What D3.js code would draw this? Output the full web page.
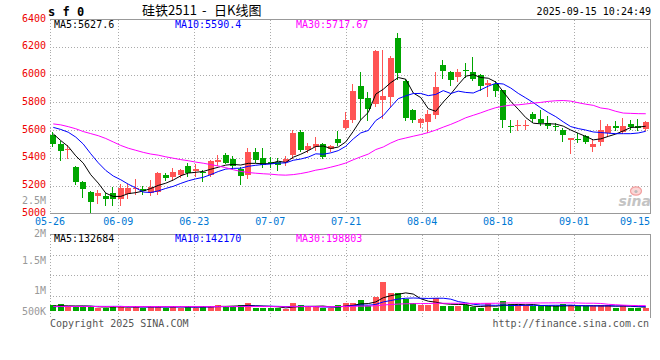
<!DOCTYPE html>
<html><head><meta charset="utf-8">
<script src="https://cdn.jsdelivr.net/npm/d3@7"></script>
<style>html,body{margin:0;padding:0;background:#fff}svg{display:block}</style>
</head><body>
<svg id="chart" width="660" height="360"></svg>
<script>
const dates = ["05-26","05-27","05-28","05-29","05-30","06-03","06-04","06-05","06-06","06-09","06-10","06-11","06-12","06-13","06-16","06-17","06-18","06-19","06-20","06-23","06-24","06-25","06-26","06-27","06-30","07-01","07-02","07-03","07-04","07-07","07-08","07-09","07-10","07-11","07-14","07-15","07-16","07-17","07-18","07-21","07-22","07-23","07-24","07-25","07-28","07-29","07-30","07-31","08-01","08-04","08-05","08-06","08-07","08-08","08-11","08-12","08-13","08-14","08-15","08-18","08-19","08-20","08-21","08-22","08-25","08-26","08-27","08-28","08-29","09-01","09-02","09-03","09-04","09-05","09-08","09-09","09-10","09-11","09-12","09-15"];
const open = [5565,5500,5458,5338,5224,5152,5127,5128,5150,5103,5143,5180,5176,5148,5152,5278,5260,5276,5343,5307,5298,5276,5369,5421,5393,5321,5279,5445,5402,5374,5369,5374,5421,5588,5457,5476,5500,5462,5536,5612,5671,5921,5833,5786,5814,5838,6260,5952,5743,5648,5660,5707,6069,6021,5981,6036,6019,6000,5926,5933,5886,5629,5631,5633,5714,5683,5655,5629,5600,5529,5536,5557,5481,5512,5576,5629,5588,5643,5629,5605];
const high = [5585,5524,5495,5345,5231,5160,5171,5145,5193,5215,5210,5250,5200,5240,5300,5295,5325,5320,5365,5355,5314,5386,5421,5433,5414,5338,5469,5469,5469,5410,5402,5414,5600,5600,5510,5552,5505,5495,5595,5731,5933,6021,5874,6176,6179,6136,6302,5969,5750,5690,5743,6017,6105,6029,6040,6081,6129,6005,5962,5957,5890,5671,5671,5676,5731,5743,5700,5648,5617,5545,5576,5564,5533,5676,5643,5667,5690,5676,5683,5667];
const low = [5485,5386,5400,5210,5117,5010,5075,5064,5060,5062,5110,5140,5143,5130,5140,5243,5243,5265,5272,5267,5231,5267,5352,5362,5326,5214,5255,5374,5338,5338,5310,5350,5398,5450,5445,5457,5398,5452,5493,5605,5660,5683,5676,5771,5690,5771,5969,5676,5660,5624,5588,5690,5974,5926,5957,5981,5962,5886,5845,5845,5624,5588,5600,5605,5660,5636,5612,5600,5521,5438,5517,5510,5452,5493,5557,5600,5576,5607,5600,5600];
const close = [5500,5452,5462,5224,5176,5081,5150,5103,5102,5180,5180,5185,5162,5192,5292,5259,5300,5314,5290,5319,5291,5379,5386,5367,5345,5267,5440,5386,5350,5357,5350,5393,5576,5457,5486,5500,5410,5486,5510,5671,5879,5826,5750,6171,5845,6117,6010,5690,5676,5679,5719,5914,6024,5962,6017,6024,5969,5921,5938,5881,5671,5624,5638,5638,5679,5648,5629,5624,5564,5540,5529,5517,5500,5600,5629,5614,5629,5624,5614,5660];
const ma5 = [5573,5525,5482,5415,5362.8,5279,5218.6,5146.8,5122.4,5123.2,5143,5150,5161.8,5179.8,5202.2,5218,5241,5271.4,5291,5296.4,5302.8,5318.6,5333,5348.4,5353.6,5348.8,5361,5361,5357.6,5360,5376.6,5367.2,5405.2,5426.6,5452.4,5482.4,5485.8,5467.8,5478.4,5515.4,5591.2,5674.4,5727.2,5859.4,5894.2,5941.8,5978.6,5966.6,5867.6,5834.4,5754.8,5735.6,5802.4,5859.6,5927.2,5988.2,5999.2,5978.6,5973.8,5946.6,5876,5807,5750.4,5690.4,5650,5645.4,5646.4,5643.6,5628.8,5601,5577.2,5554.8,5530,5537.2,5555,5572,5594.4,5619.2,5622,5628.2];
const ma10 = [5620,5605,5585,5550,5500,5430,5365,5310,5270,5243,5211,5184.3,5154.3,5151.1,5162.7,5180.5,5195.5,5216.6,5235.4,5249.3,5260.4,5279.8,5302.2,5319.7,5325,5325.8,5339.8,5347,5353,5356.8,5362.7,5364.1,5383.1,5392.1,5406.2,5429.5,5426.5,5436.5,5452.5,5483.9,5536.8,5580.1,5597.5,5668.9,5704.8,5766.5,5826.5,5846.9,5863.5,5864.3,5848.3,5857.1,5884.5,5863.6,5880.8,5871.5,5867.4,5890.5,5916.7,5936.9,5932.1,5903.1,5864.5,5832.1,5798.3,5760.7,5726.7,5697,5659.6,5625.5,5611.3,5600.6,5586.8,5583,5578,5574.6,5574.6,5574.6,5579.6,5591.6];
const ma30 = [5645,5638,5625,5610,5590,5575,5560,5540,5515,5490,5470,5455,5440,5428,5420,5408,5398,5388,5380,5370,5362,5352,5342,5330,5315,5303,5295,5290,5286,5283,5278,5276.1,5279.9,5287.6,5298,5311.9,5320.6,5333.4,5347,5363.3,5386.6,5408,5427.6,5460.2,5478.7,5507.3,5530.9,5543.5,5556.3,5568.3,5582.6,5600.4,5621.7,5641.5,5663.9,5689.2,5706.8,5724.6,5744.2,5761.7,5772.4,5780.1,5782.2,5788.2,5794.6,5799.6,5806.9,5811.5,5813.3,5808.9,5797.2,5786.9,5778.6,5759.6,5752.4,5735.6,5722.9,5720.7,5718.6,5718];
const volume = [222000,261000,168000,156000,183000,183000,129000,129000,183000,183000,129000,183000,129000,183000,183000,129000,183000,129000,183000,129000,183000,183000,222000,183000,183000,222000,300000,129000,129000,129000,129000,90000,300000,222000,156000,156000,129000,129000,222000,312000,312000,417000,183000,546000,1131000,702000,702000,456000,312000,222000,222000,507000,183000,183000,183000,222000,156000,129000,300000,129000,378000,261000,222000,222000,183000,183000,183000,183000,261000,222000,183000,183000,183000,222000,222000,129000,222000,129000,129000,129000];
const vma5 = [190000,205000,200000,195000,198000,190000,164000,156000,161000,161000,151000,161000,161000,161000,161000,161000,161000,161000,161000,151000,161000,161000,180000,180000,191000,199000,222000,203000,193000,182000,163000,121000,155000,174000,179000,185000,193000,158000,158000,190000,221000,278000,289000,354000,518000,596000,653000,707000,661000,479000,383000,344000,289000,263000,256000,256000,185000,175000,198000,187000,218000,239000,258000,242000,253000,214000,199000,191000,199000,206000,206000,206000,206000,199000,199000,188000,196000,185000,166000,148000];
const vma10 = [170000,172000,175000,178000,180000,182000,180000,178000,180000,180000,170000,163000,159000,161000,161000,156000,161000,161000,161000,156000,161000,161000,171000,171000,171000,180000,192000,192000,186000,186000,181000,172000,179000,183000,181000,174000,157000,157000,166000,185000,203000,236000,224000,256000,354000,408000,466000,498000,507000,498000,489000,498000,498000,462000,367000,319000,265000,232000,231000,221000,237000,212000,216000,220000,220000,216000,219000,224000,221000,230000,210000,203000,199000,199000,203000,197000,201000,196000,182000,173000];
const vma30 = [178000,178000,177000,177000,176000,176000,175000,175000,175000,174000,174000,174000,174000,173000,173000,173000,173000,173000,172000,172000,172000,172000,172000,173000,173000,173000,174000,174000,174000,174000,171000,165000,170000,172000,171000,170000,170000,170000,171000,176000,182000,190000,191000,203000,235000,254000,271000,282000,287000,290000,291000,302000,301000,301000,301000,301000,296000,296000,301000,301000,310000,315000,313000,313000,314000,315000,316000,318000,320000,317000,312000,304000,304000,294000,263000,244000,228000,217000,211000,208000];
const priceTicks = [5000,5200,5400,5600,5800,6000,6200,6400];
const dateTicks = ["05-26","06-09","06-23","07-07","07-21","08-04","08-18","09-01","09-15"];
const volTickValues = [500000,1000000,1500000,2000000,2500000];
const volTickLabels = ["500K","1M","1.5M","2M","2.5M"];
const priceMALabels = ["MA5:5627.6","MA10:5590.4","MA30:5717.67"];
const volMALabels = ["MA5:132684","MA10:142170","MA30:198803"];
const titleCode = "s f 0";
const titleParts = ["硅铁2511", "-", "日K线图"];
const stamp = "2025-09-15 10:24:49";

const MONO = "'DejaVu Sans Mono', 'Liberation Mono', monospace";
const UP = "#ff5454", DOWN = "#00a600";
const MA_COLORS = ["#000000", "#0000ff", "#ff00ff"];
const GRID = "#aaaaaa", FRAME = "#999999";

const svg = d3.select("#chart");
const L = 50, R = 650, PT = 19.5, PB = 213.5, VT = 234.5, VB = 316, VBASE = 311;

const x = d3.scaleBand().domain(dates).range([49.5, 649.5]);
const cx = i => x(dates[i]) + x.bandwidth() / 2;
const y = d3.scaleLinear().domain([5000, 6400]).range([213.5, 19]);
const yVol = d3.scaleLinear().domain([0, 3000000]).range([VBASE, 234.1]);
const tickSlot = d3.scaleLinear().domain([1, 8]).range([118.3, 650]);
const volGrid = d3.scaleLinear().domain([0, 4]).range([VB, 234.3]);
const volLabelY = d3.scaleLinear().domain(volTickValues).range([311, 290.5, 260.3, 233.2, 200]);

const px = v => Math.round(v) + 0.5;

// ---------- grids ----------
const grid = svg.append("g").attr("stroke", GRID).attr("stroke-dasharray", "1,2").attr("shape-rendering", "crispEdges");
priceTicks.slice(1, -1).forEach(v => {
  grid.append("line").attr("x1", L).attr("x2", R).attr("y1", px(y(v))).attr("y2", px(y(v)));
});
d3.range(1, 4).forEach(k => {
  grid.append("line").attr("x1", L).attr("x2", R).attr("y1", px(volGrid(k))).attr("y2", px(volGrid(k)));
});
d3.range(1, 8).forEach(k => {
  const gx = px(tickSlot(k));
  grid.append("line").attr("x1", gx).attr("x2", gx).attr("y1", PT).attr("y2", PB);
  grid.append("line").attr("x1", gx).attr("x2", gx).attr("y1", VT).attr("y2", 319);
});
grid.append("line").attr("x1", 50.5).attr("x2", 50.5).attr("y1", PT).attr("y2", PB);
grid.append("line").attr("x1", 50.5).attr("x2", 50.5).attr("y1", VT).attr("y2", 318);

const frame = svg.append("g").attr("stroke", FRAME).attr("fill", "none").attr("shape-rendering", "crispEdges");
frame.append("path").attr("d", `M50,${PT}H650.5V${PB}H50`);
frame.append("path").attr("d", `M50,${VT}H650.5V318`);

// ---------- axes text ----------
const yAxis = d3.axisLeft(y).tickValues(priceTicks).tickSize(0).tickPadding(4).tickFormat(d3.format("d"));
const ya = svg.append("g").attr("transform", "translate(50,0)").call(yAxis);
ya.select(".domain").remove();
ya.selectAll("text").attr("fill", "#ee0000").attr("font-family", MONO).attr("font-size", 10).attr("dy", "0.2em");

const vlab = svg.append("g").attr("font-family", MONO).attr("font-size", 10).attr("fill", "#999").attr("text-anchor", "end");
volTickValues.forEach((v, k) => {
  vlab.append("text").attr("x", 46).attr("y", volLabelY(v) + 3.5).text(volTickLabels[k]);
});

const xlab = svg.append("g").attr("font-family", MONO).attr("font-size", 10).attr("fill", "#0078d4");
dateTicks.forEach((t, k) => {
  const tx = k === 0 ? 50 : (k === dateTicks.length - 1 ? 650 : tickSlot(k));
  xlab.append("text").attr("x", tx).attr("y", 224.8)
    .attr("text-anchor", k === dateTicks.length - 1 ? "end" : "middle").text(t);
});

// ---------- candles & volume bars ----------
const rows = dates.map((d, i) => ({ d, i, o: open[i], h: high[i], l: low[i], c: close[i], v: volume[i] }));
const cg = svg.append("g").attr("shape-rendering", "crispEdges");
rows.forEach(r => {
  const col = r.c >= r.o ? UP : DOWN;
  const bx = Math.round(cx(r.i) - 3);
  const yt = Math.round(y(Math.max(r.o, r.c)));
  const yb = Math.round(y(Math.min(r.o, r.c)));
  cg.append("line").attr("x1", bx + 2.5).attr("x2", bx + 2.5)
    .attr("y1", Math.round(y(r.h))).attr("y2", Math.round(y(r.l)) + 1).attr("stroke", col);
  cg.append("rect").attr("x", bx).attr("y", yt).attr("width", 6).attr("height", Math.max(1, yb - yt)).attr("fill", col);
  const vt = Math.round(yVol(r.v));
  cg.append("rect").attr("x", bx).attr("y", vt).attr("width", 6).attr("height", VBASE - vt).attr("fill", col);
});

// ---------- MA lines ----------
const lineP = d3.line().x((d, i) => cx(i)).y(d => y(d));
const lineV = d3.line().x((d, i) => cx(i)).y(d => yVol(d));
[ma5, ma10, ma30].forEach((s, k) => {
  svg.append("path").attr("d", lineP(s)).attr("fill", "none").attr("stroke", MA_COLORS[k]).attr("stroke-width", 1);
});
[vma5, vma10, vma30].forEach((s, k) => {
  svg.append("path").attr("d", lineV(s)).attr("fill", "none").attr("stroke", MA_COLORS[k]).attr("stroke-width", 1);
});

// ---------- labels ----------
const maX = [54, 175, 296];
const ml = svg.append("g").attr("font-family", MONO).attr("font-size", 10);
priceMALabels.forEach((t, k) => ml.append("text").attr("x", maX[k]).attr("y", 27.5).attr("fill", MA_COLORS[k]).text(t));
volMALabels.forEach((t, k) => ml.append("text").attr("x", maX[k]).attr("y", 241.5).attr("fill", MA_COLORS[k]).text(t));

svg.append("text").attr("x", 48).attr("y", 16).attr("font-family", MONO).attr("font-size", 12)
  .attr("font-weight", "bold").attr("fill", "#000").text(titleCode);
const tt = svg.append("text").attr("y", 14.5).attr("font-family", "'Noto Sans CJK SC', sans-serif")
  .attr("font-size", 13).attr("fill", "#000");
const titleX = [142, 202, 214];
titleParts.forEach((t, k) => tt.append("tspan").attr("x", titleX[k]).text(t));
svg.append("text").attr("x", 651).attr("y", 15).attr("text-anchor", "end").attr("font-family", MONO)
  .attr("font-size", 10).attr("fill", "#000").text(stamp);

svg.append("text").attr("x", 50).attr("y", 327).attr("font-family", MONO).attr("font-size", 10)
  .attr("fill", "#555").text("Copyright 2025 SINA.COM");
svg.append("text").attr("x", 649).attr("y", 327).attr("text-anchor", "end").attr("font-family", MONO)
  .attr("font-size", 10).attr("fill", "#555").text("http://finance.sina.com.cn");

// sina watermark
const wm = svg.append("g");
wm.append("ellipse").attr("cx", 636).attr("cy", 191).attr("rx", 5.5).attr("ry", 4.2)
  .attr("fill", "#fbd6d6").attr("stroke", "#f2a0a0").attr("stroke-width", 1.2);
wm.append("circle").attr("cx", 636).attr("cy", 191.5).attr("r", 1.6).attr("fill", "#bbb");
wm.append("text").attr("x", 651).attr("y", 206).attr("text-anchor", "end")
  .attr("font-family", "'DejaVu Sans', sans-serif").attr("font-size", 14).attr("font-weight", "bold")
  .attr("font-style", "italic").attr("fill", "#c4c4c4").text("sina");
</script>
</body></html>
